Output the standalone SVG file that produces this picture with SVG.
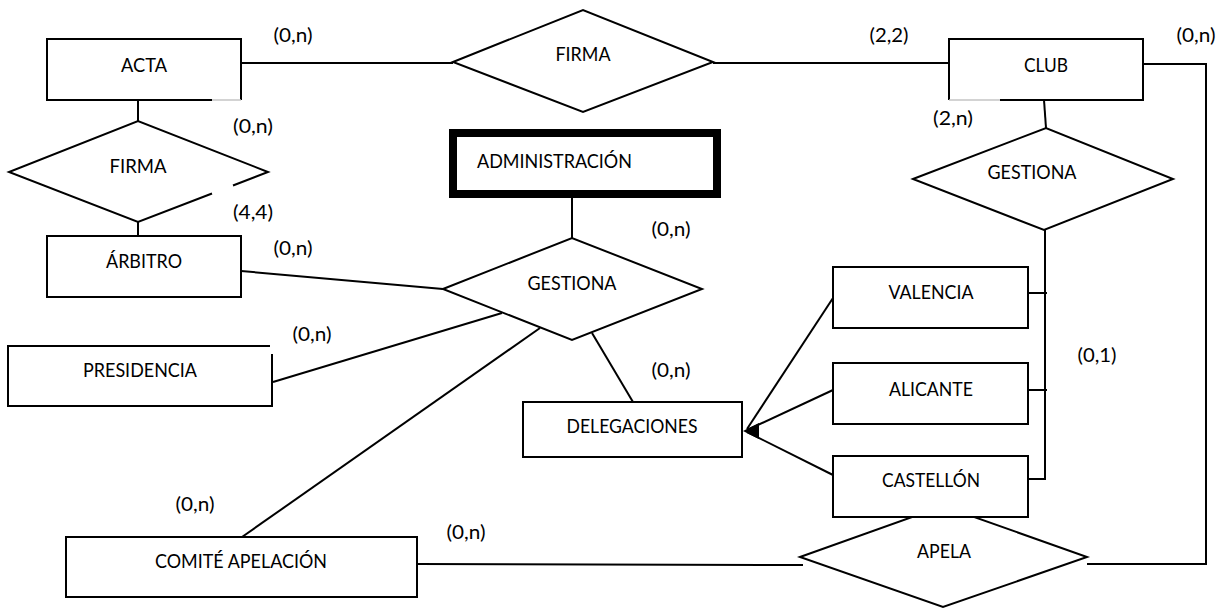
<svg xmlns="http://www.w3.org/2000/svg" width="1223" height="609" viewBox="0 0 1223 609">
  <style>
    .box { fill: #fff; stroke: #000; stroke-width: 2; }
    .edge { fill: none; stroke: #000; stroke-width: 2; }
    .faint { fill: none; stroke: #c4c4c4; stroke-width: 1.5; }
    .strong { fill: #fff; stroke: #000; stroke-width: 8; }
    .conn { fill: none; stroke: #000; stroke-width: 2; stroke-linejoin: miter; }
    text { font-family: Lato, "Open Sans", "Liberation Sans", sans-serif; font-size: 19px; fill: #000; text-anchor: middle; }
    .card { font-size: 19px; }
  </style>

  <rect width="1223" height="609" fill="#fff"/>

  <!-- connectors -->
  <g id="connectors">
    <path class="conn" d="M241,63 H453"/>
    <path class="conn" d="M713,63 H949"/>
    <path class="conn" d="M1143,64 H1206 V564 H1087"/>
    <path class="conn" d="M1044,100 L1046,128"/>
    <path class="conn" d="M1045,230 V479 H1028"/>
    <path class="conn" d="M1028,293 H1047"/>
    <path class="conn" d="M1028,390 H1047"/>
    <path class="conn" d="M138,100 V121"/>
    <path class="conn" d="M138,222 V236"/>
    <path class="conn" d="M572,198 V238"/>
    <path class="conn" d="M241,271 L443,289"/>
    <path class="conn" d="M273,382 L502,313"/>
    <path class="conn" d="M242,537 L540,328"/>
    <path class="conn" d="M592,333 L633,402"/>
    <path class="conn" d="M833,298 L747,429"/>
    <path class="conn" d="M833,390 L747,430"/>
    <path class="conn" d="M833,475 L747,432"/>
    <path class="conn" d="M417,564 L803,565"/>
    <polygon points="743,431 759,423 759,439" fill="#000"/>
  </g>

  <!-- entity: ACTA -->
  <g id="acta">
    <path class="edge" d="M212,100 H47 V39 H241 V100" fill="#fff"/>
    <path class="faint" d="M212,100 H241"/>
    <text x="144" y="72" textLength="46" lengthAdjust="spacingAndGlyphs">ACTA</text>
  </g>

  <!-- relationship: FIRMA (ACTA - CLUB) -->
  <g id="firma-club">
    <polygon class="box" points="453,62 583,10 713,62 583,112"/>
    <text x="583" y="61" textLength="55" lengthAdjust="spacingAndGlyphs">FIRMA</text>
  </g>

  <!-- entity: CLUB -->
  <g id="club">
    <path class="edge" d="M1000,100 H1143 V39 H949 V100" fill="#fff"/>
    <path class="faint" d="M949,100 H1000"/>
    <text x="1046" y="72" textLength="44" lengthAdjust="spacingAndGlyphs">CLUB</text>
  </g>

  <!-- relationship: FIRMA (ACTA - ÁRBITRO) -->
  <g id="firma-arbitro">
    <polygon points="9,172 138,121 268,172 138,222" fill="#fff"/>
    <path class="edge" d="M233,185.5 L268,172 L138,121 L9,172 L138,222 L212,193.5"/>
    <text x="138" y="173" textLength="57" lengthAdjust="spacingAndGlyphs">FIRMA</text>
  </g>

  <!-- entity: ÁRBITRO -->
  <g id="arbitro">
    <rect class="box" x="47" y="236" width="194" height="61"/>
    <text x="144" y="268" textLength="76" lengthAdjust="spacingAndGlyphs">ÁRBITRO</text>
  </g>

  <!-- entity: PRESIDENCIA -->
  <g id="presidencia">
    <rect x="8" y="346" width="264" height="60" fill="#fff"/>
    <path class="edge" d="M270,346 H8 V406 H272 V354"/>
    <text x="140" y="377" textLength="114" lengthAdjust="spacingAndGlyphs">PRESIDENCIA</text>
  </g>

  <!-- weak entity: ADMINISTRACIÓN -->
  <g id="administracion">
    <rect class="strong" x="453" y="133" width="264" height="61"/>
    <text x="477" y="168" textLength="155" lengthAdjust="spacingAndGlyphs" style="text-anchor:start">ADMINISTRACIÓN</text>
  </g>

  <!-- relationship: GESTIONA (central) -->
  <g id="gestiona-admin">
    <polygon class="box" points="443,289 572,238 702,289 572,340"/>
    <text x="572" y="290" textLength="89" lengthAdjust="spacingAndGlyphs">GESTIONA</text>
  </g>

  <!-- entity: DELEGACIONES -->
  <g id="delegaciones">
    <rect class="box" x="523" y="402" width="219" height="55"/>
    <text x="632" y="433" textLength="131" lengthAdjust="spacingAndGlyphs">DELEGACIONES</text>
  </g>

  <!-- relationship: GESTIONA (CLUB) -->
  <g id="gestiona-club">
    <polygon class="box" points="913,179 1046,128 1173,179 1044,230"/>
    <text x="1032" y="179" textLength="89" lengthAdjust="spacingAndGlyphs">GESTIONA</text>
  </g>

  <!-- entities: delegations -->
  <g id="valencia">
    <rect class="box" x="833" y="267" width="195" height="61"/>
    <text x="931" y="299" textLength="85" lengthAdjust="spacingAndGlyphs">VALENCIA</text>
  </g>
  <g id="alicante">
    <rect class="box" x="833" y="363" width="195" height="61"/>
    <text x="931" y="396" textLength="84" lengthAdjust="spacingAndGlyphs">ALICANTE</text>
  </g>

  <!-- relationship: APELA (drawn beneath CASTELLÓN) -->
  <g id="apela">
    <polygon class="box" points="800,557 943,506 1087,557 943,607"/>
    <text x="944" y="558" textLength="54" lengthAdjust="spacingAndGlyphs">APELA</text>
  </g>

  <g id="castellon">
    <rect class="box" x="833" y="456" width="195" height="61"/>
    <text x="931" y="487" textLength="98" lengthAdjust="spacingAndGlyphs">CASTELLÓN</text>
  </g>

  <!-- entity: COMITÉ APELACIÓN -->
  <g id="comite">
    <rect class="box" x="66" y="537" width="351" height="60"/>
    <text x="241" y="568" textLength="172" lengthAdjust="spacingAndGlyphs">COMITÉ APELACIÓN</text>
  </g>

  <!-- cardinalities -->
  <g id="cardinalities">
    <text class="card" x="293" y="42" textLength="39" lengthAdjust="spacingAndGlyphs">(0,n)</text>
    <text class="card" x="889" y="42" textLength="39" lengthAdjust="spacingAndGlyphs">(2,2)</text>
    <text class="card" x="1196" y="42" textLength="39" lengthAdjust="spacingAndGlyphs">(0,n)</text>
    <text class="card" x="253" y="133" textLength="40" lengthAdjust="spacingAndGlyphs">(0,n)</text>
    <text class="card" x="253" y="219" textLength="40" lengthAdjust="spacingAndGlyphs">(4,4)</text>
    <text class="card" x="953" y="125" textLength="40" lengthAdjust="spacingAndGlyphs">(2,n)</text>
    <text class="card" x="671" y="236" textLength="39" lengthAdjust="spacingAndGlyphs">(0,n)</text>
    <text class="card" x="293" y="255" textLength="39" lengthAdjust="spacingAndGlyphs">(0,n)</text>
    <text class="card" x="312" y="341" textLength="39" lengthAdjust="spacingAndGlyphs">(0,n)</text>
    <text class="card" x="671" y="377" textLength="39" lengthAdjust="spacingAndGlyphs">(0,n)</text>
    <text class="card" x="1097" y="362" textLength="39" lengthAdjust="spacingAndGlyphs">(0,1)</text>
    <text class="card" x="195" y="511" textLength="39" lengthAdjust="spacingAndGlyphs">(0,n)</text>
    <text class="card" x="466" y="539" textLength="39" lengthAdjust="spacingAndGlyphs">(0,n)</text>
  </g>
</svg>
